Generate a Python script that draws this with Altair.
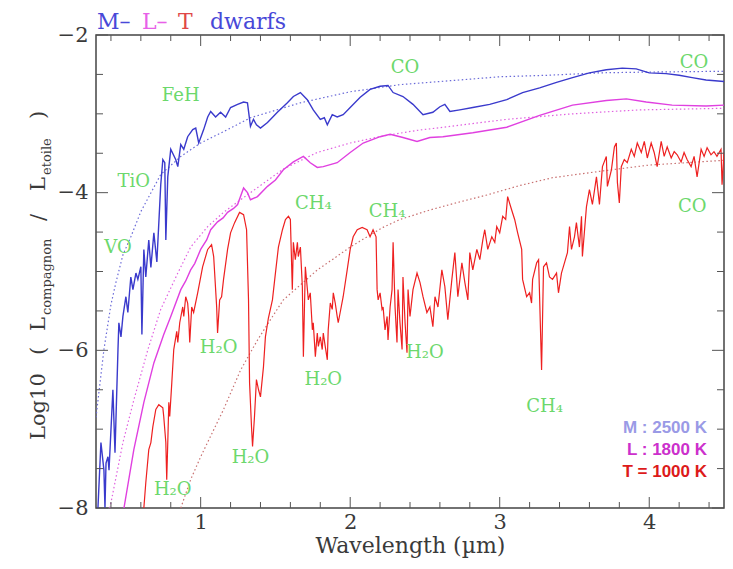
import altair as alt
import pandas as pd

# ---------------- data ----------------
# M dwarf (2500 K) spectrum
m_wl = [0.313,0.333,0.353,0.36,0.367,0.38,0.387,0.413,0.427,0.447,
        0.453,0.467,0.48,0.50,0.513,0.533,0.547,0.567,0.58,0.60,
        0.607,0.62,0.633,0.653,0.667,0.687,0.707,0.733,0.747,0.76,
        0.767,0.78,0.80,0.833,0.847,0.867,0.887,0.913,0.947,0.967,
        0.987,1.02,1.047,1.067,1.10,1.133,1.167,1.20,1.247,1.287,
        1.313,1.333,1.353,1.373,1.40,1.447,1.513,1.58,1.62,1.667,
        1.713,1.753,1.80,1.827,1.847,1.88,1.913,1.953,2.0,2.067,
        2.133,2.20,2.253,2.287,2.353,2.42,2.487,2.553,2.60,2.633,
        2.667,2.733,2.82,2.933,3.047,3.153,3.267,3.38,3.487,3.60,
        3.713,3.82,3.913,4.0,4.113,4.20,4.287,4.38,4.5]
m_val = [-8.0,-7.17,-7.52,-8.0,-7.43,-7.35,-7.52,-6.50,-7.30,-5.99,
         -5.65,-5.83,-5.57,-5.32,-5.52,-5.07,-5.23,-5.02,-5.10,-4.94,
         -5.80,-4.72,-5.07,-4.60,-4.95,-4.51,-4.88,-3.90,-3.58,-3.62,
         -4.60,-3.80,-3.45,-3.58,-3.67,-3.39,-3.45,-3.29,-3.20,-3.18,
         -3.37,-3.20,-3.04,-2.97,-3.04,-2.98,-3.04,-2.92,-2.88,-2.85,
         -2.86,-3.16,-3.07,-3.14,-3.18,-3.11,-2.98,-2.86,-2.78,-2.73,
         -2.82,-2.95,-3.07,-3.05,-3.14,-3.01,-3.04,-3.01,-2.92,-2.79,
         -2.69,-2.65,-2.64,-2.73,-2.78,-2.88,-3.01,-2.98,-2.91,-2.88,
         -2.97,-2.95,-2.92,-2.88,-2.82,-2.73,-2.67,-2.60,-2.54,-2.48,
         -2.44,-2.42,-2.43,-2.48,-2.49,-2.51,-2.54,-2.57,-2.59]

# L dwarf (1800 K) spectrum
l_wl = [0.487,0.553,0.62,0.687,0.753,0.80,0.867,0.90,0.933,0.96,1.0,1.04,1.067,
        1.113,1.15,1.18,1.22,1.247,1.287,1.313,1.333,1.38,1.447,1.50,1.553,1.62,
        1.687,1.733,1.78,1.82,1.913,2.0,2.087,2.20,2.267,2.353,
        2.447,2.533,2.62,2.82,3.047,3.267,3.487,3.713,3.847,3.98,
        4.153,4.38,4.5]
l_val = [-8.0,-7.26,-6.66,-6.16,-5.80,-5.57,-5.23,-5.12,-4.98,-4.90,-4.72,-4.60,-4.47,
         -4.37,-4.32,-4.25,-4.20,-4.15,-3.94,-4.0,-4.09,-4.05,-3.92,-3.84,-3.71,-3.61,
         -3.54,-3.62,-3.68,-3.67,-3.62,-3.49,-3.37,-3.29,-3.26,-3.30,
         -3.35,-3.30,-3.29,-3.24,-3.17,-3.02,-2.89,-2.83,-2.81,-2.85,
         -2.89,-2.90,-2.89]

# T dwarf (1000 K) spectrum
t_wl = [0.62,0.633,0.653,0.667,0.68,0.70,0.72,0.747,0.753,0.767,
        0.773,0.78,0.787,0.793,0.807,0.82,0.84,0.847,0.86,0.88,
        0.887,0.90,0.913,0.92,0.927,0.94,0.953,0.98,1.013,1.047,
        1.073,1.087,1.107,1.113,1.127,1.14,1.153,1.18,1.20,1.227,
        1.26,1.287,1.307,1.32,1.327,1.34,1.347,1.36,1.373,1.387,
        1.40,1.42,1.433,1.453,1.48,1.50,1.52,1.547,1.567,1.587,
        1.60,1.613,1.62,1.633,1.647,1.653,1.667,1.68,1.687,1.70,
        1.72,1.733,1.747,1.753,1.767,1.78,1.787,1.80,1.813,1.82,
        1.833,1.847,1.853,1.867,1.88,1.887,1.90,1.913,1.92,1.933,
        1.953,1.98,2.0,2.02,2.047,2.08,2.113,2.133,2.153,2.173,
        2.18,2.187,2.20,2.213,2.22,2.233,2.247,2.253,2.267,2.28,
        2.287,2.30,2.313,2.32,2.333,2.347,2.353,2.367,2.38,2.387,
        2.40,2.42,2.447,2.467,2.487,2.513,2.533,2.553,2.567,2.587,
        2.613,2.633,2.653,2.68,2.70,2.72,2.747,2.767,2.787,2.80,
        2.82,2.847,2.867,2.887,2.90,2.92,2.947,2.967,2.98,3.0,
        3.02,3.04,3.053,3.08,3.10,3.12,3.147,3.153,3.18,3.20,
        3.213,3.22,3.247,3.26,3.28,3.293,3.313,3.333,3.353,3.38,
        3.393,3.413,3.433,3.453,3.467,3.48,3.50,3.513,3.533,3.547,
        3.553,3.58,3.60,3.62,3.647,3.667,3.687,3.713,3.72,3.747,
        3.767,3.78,3.787,3.80,3.813,3.833,3.853,3.88,3.90,3.92,
        3.947,3.967,3.987,4.013,4.033,4.053,4.08,4.10,4.12,4.147,
        4.167,4.187,4.213,4.233,4.253,4.28,4.30,4.32,4.347,4.367,
        4.387,4.413,4.433,4.453,4.48,4.487,4.5]
t_val = [-8.0,-7.68,-7.26,-7.17,-6.97,-6.75,-6.69,-6.73,-6.84,-7.17,
         -7.64,-7.17,-6.66,-6.84,-6.41,-5.99,-5.76,-5.90,-5.65,-5.45,
         -5.57,-5.32,-5.40,-5.57,-5.90,-5.45,-5.52,-5.27,-4.94,-4.72,
         -4.66,-4.81,-5.45,-5.78,-5.36,-5.32,-5.10,-4.72,-4.51,-4.38,
         -4.25,-4.28,-4.47,-5.36,-6.41,-6.97,-7.22,-6.84,-6.37,-6.50,
         -6.59,-6.21,-5.83,-5.59,-5.36,-5.02,-4.69,-4.47,-4.34,-4.30,
         -4.34,-5.23,-4.63,-4.85,-4.63,-4.81,-4.69,-5.19,-6.08,-4.94,
         -5.36,-5.27,-5.74,-5.65,-6.08,-5.78,-5.95,-5.83,-5.99,-5.78,
         -5.95,-6.12,-5.74,-5.40,-5.48,-5.27,-5.40,-5.57,-5.65,-5.52,
         -5.32,-4.98,-4.72,-4.56,-4.47,-4.44,-4.47,-4.56,-4.47,-4.56,
         -5.23,-5.36,-5.27,-5.48,-5.45,-5.74,-5.57,-5.87,-5.45,-5.23,
         -4.63,-5.45,-5.90,-5.23,-5.65,-5.99,-5.07,-5.65,-6.03,-5.23,
         -5.57,-5.23,-5.02,-5.14,-5.32,-5.52,-5.45,-5.70,-5.32,-5.45,
         -4.98,-5.19,-5.61,-5.10,-4.76,-5.32,-4.89,-5.14,-5.36,-4.76,
         -4.98,-4.72,-4.85,-4.60,-4.47,-4.72,-4.56,-4.63,-4.43,-4.51,
         -4.30,-4.34,-4.05,-4.22,-4.34,-4.51,-4.72,-5.10,-5.32,-5.27,
         -5.40,-5.10,-4.89,-4.85,-6.25,-4.94,-4.89,-5.07,-5.10,-5.02,
         -5.27,-5.02,-4.89,-4.76,-4.43,-4.72,-4.56,-4.38,-4.69,-4.30,
         -4.81,-4.18,-3.96,-4.15,-3.80,-4.15,-3.67,-3.54,-3.92,-3.71,
         -3.42,-3.37,-3.87,-4.13,-3.67,-3.58,-3.62,-3.45,-3.54,-3.37,
         -3.49,-3.35,-3.56,-3.37,-3.49,-3.67,-3.35,-3.54,-3.42,-3.56,
         -3.48,-3.52,-3.61,-3.49,-3.58,-3.67,-3.54,-3.80,-3.45,-3.54,
         -3.43,-3.52,-3.48,-3.54,-3.45,-3.90,-3.49]

# blackbody (dotted) curves
bbm_wl = [0.30,0.353,0.40,0.433,0.48,0.533,0.60,0.733,0.867,1.0,1.18,1.333,1.667,2.0,2.333,2.667,3.0,3.333,3.667,4.0,4.5]
bbm_val = [-6.85,-5.99,-5.42,-5.14,-4.79,-4.56,-4.24,-3.77,-3.54,-3.37,-3.20,-3.05,-2.86,-2.72,-2.63,-2.58,-2.53,-2.51,-2.48,-2.47,-2.46]
bbl_wl = [0.393,0.48,0.553,0.647,0.733,0.847,0.933,1.047,1.153,1.267,1.333,1.553,1.78,2.0,2.22,2.447,2.667,3.047,3.487,3.933,4.5]
bbl_val = [-8.0,-7.17,-6.63,-5.99,-5.48,-5.02,-4.69,-4.43,-4.25,-4.09,-4.0,-3.70,-3.49,-3.37,-3.28,-3.21,-3.16,-3.07,-3.0,-2.95,-2.93]
bbt_wl = [0.867,0.933,1.0,1.153,1.267,1.38,1.467,1.553,1.667,1.78,1.887,2.0,2.113,2.22,2.333,2.533,2.687,2.913,3.133,3.353,3.667,4.0,4.5]
bbt_val = [-8.0,-7.64,-7.35,-6.75,-6.25,-5.87,-5.61,-5.36,-5.17,-4.98,-4.84,-4.69,-4.56,-4.44,-4.34,-4.22,-4.14,-4.03,-3.91,-3.81,-3.73,-3.65,-3.59]

# molecule annotations
ann_txt = ["FeH", "TiO", "VO", "CO", "CO", "CH₄", "CH₄", "CO",
           "H₂O", "H₂O", "H₂O", "H₂O", "H₂O", "CH₄"]
ann_wl = [0.867, 0.553, 0.447, 2.367, 4.30, 1.753, 2.247, 4.287,
          1.12, 1.82, 2.50, 1.333, 0.813, 3.30]
ann_val = [-2.78, -3.86, -4.70, -2.42, -2.35, -4.15, -4.25, -4.18,
           -5.97, -6.37, -6.04, -7.36, -7.77, -6.72]

# axes ticks
x_major = [1, 2, 3, 4]
x_minor = [0.4, 0.6, 0.8, 1.2, 1.4, 1.6, 1.8, 2.2, 2.4, 2.6, 2.8,
           3.2, 3.4, 3.6, 3.8, 4.2, 4.4]
y_major = [-2, -4, -6, -8]
y_minor = [-2.5, -3, -3.5, -4.5, -5, -5.5, -6.5, -7, -7.5]

# ---------------- chart ----------------
W, H = 628, 473
SERIF = "DejaVu Serif"
SANS = "Liberation Sans"
TXT = "#3a3a3a"

xs = alt.Scale(domain=[0.3, 4.5], nice=False, zero=False)
ys = alt.Scale(domain=[-8, -2], nice=False, zero=False)

x_axis = alt.Axis(values=x_major, ticks=False, domain=False, grid=False, format="d",
                  labelFont=SERIF, labelFontSize=21, labelColor=TXT, labelPadding=3,
                  labelFlush=False, labelOverlap=False,
                  title="Wavelength (µm)", titleFont=SERIF, titleFontSize=22,
                  titleFontWeight="normal", titleColor=TXT, titlePadding=3)
y_axis = alt.Axis(values=y_major, ticks=False, domain=False, grid=False, format="d",
                  labelFont=SERIF, labelFontSize=21, labelColor=TXT, labelPadding=8,
                  labelFlush=False, labelOverlap=False, title=None)


def X(f):
    return alt.X(f, type="quantitative", scale=xs, axis=x_axis)


def Y(f):
    return alt.Y(f, type="quantitative", scale=ys, axis=y_axis)


def curve(wl, val, color, width, dash=None, opacity=1.0):
    df = pd.DataFrame({"wl": wl, "v": val, "i": list(range(len(wl)))})
    kw = dict(color=color, strokeWidth=width, clip=True, opacity=opacity)
    if dash:
        kw["strokeDash"] = dash
    return alt.Chart(df).mark_line(**kw).encode(x=X("wl"), y=Y("v"), order="i:Q")


layers = [
    curve(bbm_wl, bbm_val, "#6a6ad8", 1.2, [1.5, 2.5]),
    curve(bbl_wl, bbl_val, "#e060e0", 1.2, [1.5, 2.5]),
    curve(bbt_wl, bbt_val, "#c87070", 1.2, [1.5, 2.5]),
    curve(m_wl, m_val, "#3a3acc", 1.4),
    curve(l_wl, l_val, "#e040e0", 1.4),
    curve(t_wl, t_val, "#ee2020", 1.2),
]

ann = pd.DataFrame({"wl": ann_wl, "v": ann_val, "t": ann_txt})
layers.append(alt.Chart(ann).mark_text(font=SERIF, fontSize=18, color="#6cd86c",
                                       align="center", baseline="middle")
              .encode(x=X("wl"), y=Y("v"), text="t:N"))


# inward ticks on all four sides
def xt(vals, length):
    df = pd.DataFrame({"t": vals})
    bot = alt.Chart(df).mark_rule(color="#555555", strokeWidth=1).encode(
        x=X("t"), y=alt.value(H), y2=alt.value(H - length))
    top = alt.Chart(df).mark_rule(color="#555555", strokeWidth=1).encode(
        x=X("t"), y=alt.value(0), y2=alt.value(length))
    return [bot, top]


def yt(vals, length):
    df = pd.DataFrame({"t": vals})
    lef = alt.Chart(df).mark_rule(color="#555555", strokeWidth=1).encode(
        y=Y("t"), x=alt.value(0), x2=alt.value(length))
    rig = alt.Chart(df).mark_rule(color="#555555", strokeWidth=1).encode(
        y=Y("t"), x=alt.value(W), x2=alt.value(W - length))
    return [lef, rig]


layers += xt(x_major, 11) + xt(x_minor, 6) + yt(y_major, 12) + yt(y_minor, 7)

one = pd.DataFrame({"k": [0]})


def label(txt, x, y, color, size, font=SERIF, weight="normal", align="left",
          baseline="alphabetic", angle=0):
    return alt.Chart(one).mark_text(text=txt, color=color, fontSize=size, font=font,
                                    fontWeight=weight, align=align, baseline=baseline,
                                    angle=angle).encode(x=alt.value(x), y=alt.value(y))


# title
layers += [
    label("M–", 1, -6, "#4848d8", 22),
    label("L–", 46, -6, "#e860e8", 22),
    label("T", 82, -6, "#e04848", 22),
    label("dwarfs", 114, -6, "#4848d8", 22),
]

# y axis title (rotated, with subscripts)
layers += [
    label("Log10", -51, 405, TXT, 21, angle=270),
    label("(", -51, 320, TXT, 21, angle=270),
    label("L", -51, 296, TXT, 21, angle=270),
    label("compagnon", -45, 280, TXT, 13, angle=270),
    label("/", -51, 186, TXT, 21, angle=270),
    label("L", -51, 156, TXT, 21, angle=270),
    label("etoile", -45, 140, TXT, 13, angle=270),
    label(")", -51, 84, TXT, 21, angle=270),
]

# temperature legend
layers += [
    label("M : 2500 K", 611, 398, "#9a9ae6", 17, font=SANS, weight="bold", align="right"),
    label("L : 1800 K", 611, 420, "#cc30cc", 17, font=SANS, weight="bold", align="right"),
    label("T = 1000 K", 611, 442, "#dd1a1a", 17, font=SANS, weight="bold", align="right"),
]

chart = alt.layer(*layers).properties(
    width=W, height=H,
    padding={"left": 88, "top": 27, "right": 1, "bottom": 53},
    autosize=alt.AutoSizeParams(type="none"),
    background="white",
).configure_view(stroke="#444444", strokeWidth=1.5)

chart.save("out.html", embed_options={"renderer": "svg", "actions": False})
